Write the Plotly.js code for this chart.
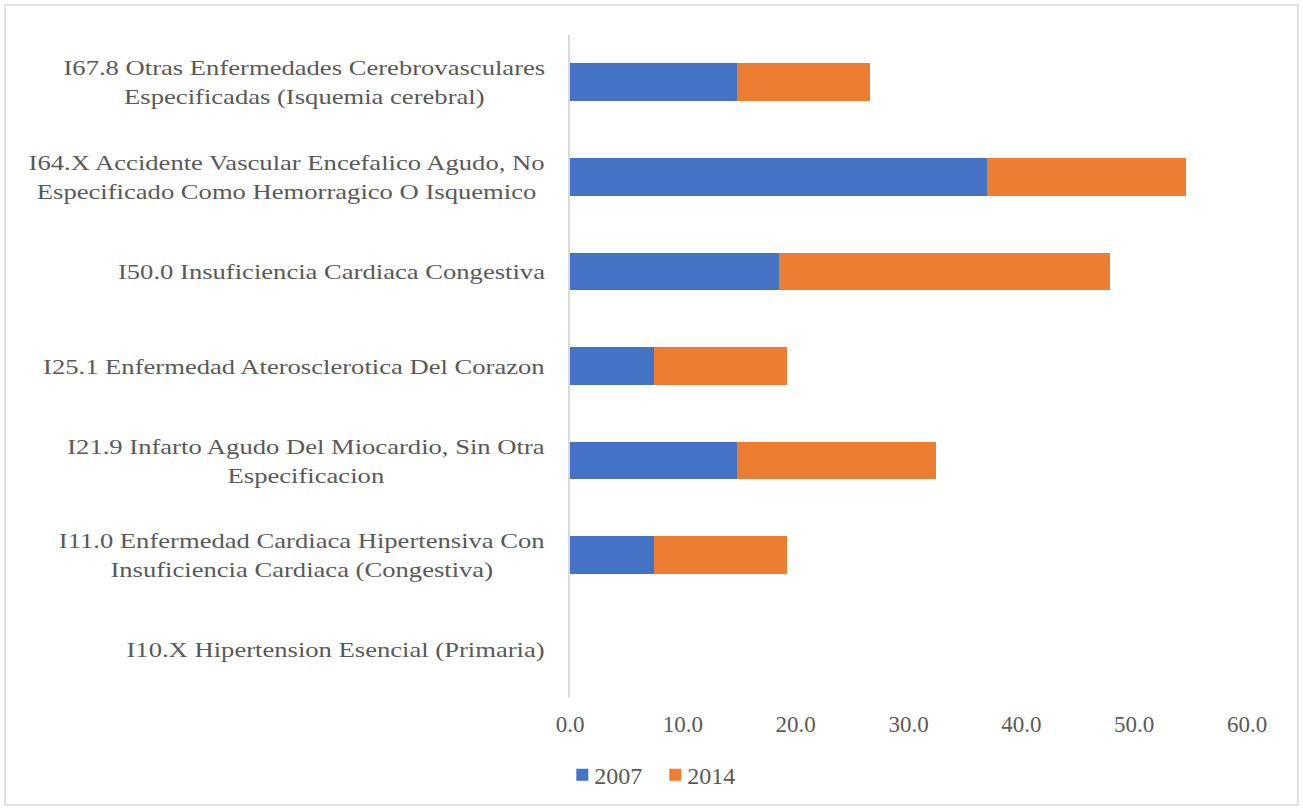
<!DOCTYPE html>
<html>
<head>
<meta charset="utf-8">
<script src="https://cdn.plot.ly/plotly-3.0.1.min.js"></script>
<style>
  html, body { margin: 0; padding: 0; background: #fff; }
  #chart { width: 1303px; height: 810px; }
  /* category labels are set in a wide serif: widen the glyphs from the right edge */
  #chart .annotation-text {
    transform-box: fill-box;
    transform-origin: 100% 50%;
    transform: scaleX(1.21);
  }
  /* tighter gap between legend swatch and its label */
  #chart .legendtext {
    transform: translateX(-8px);
  }
</style>
</head>
<body>
<div id="chart"></div>
<script>
// Diagnoses, listed top to bottom as shown
const categories = [
  "I67.8 Otras Enfermedades Cerebrovasculares<br>Especificadas (Isquemia cerebral)",
  "I64.X Accidente Vascular Encefalico Agudo, No<br>Especificado Como Hemorragico O Isquemico",
  "I50.0 Insuficiencia Cardiaca Congestiva",
  "I25.1 Enfermedad Aterosclerotica Del Corazon",
  "I21.9 Infarto Agudo Del Miocardio, Sin Otra<br>Especificacion",
  "I11.0 Enfermedad Cardiaca Hipertensiva Con<br>Insuficiencia Cardiaca (Congestiva)",
  "I10.X Hipertension Esencial (Primaria)"
];
const keys = ["I67.8", "I64.X", "I50.0", "I25.1", "I21.9", "I11.0", "I10.X"];
const values2007 = [14.8, 37.0, 18.5, 7.4, 14.8, 7.4, 0];
const values2014 = [11.8, 17.6, 29.4, 11.8, 17.6, 11.8, 0];
const xTicks = [0, 10, 20, 30, 40, 50, 60];

const FONT = "'Liberation Serif', 'Times New Roman', serif";
const TEXT_COLOR = "#595959";

const traces = [
  {
    type: "bar", orientation: "h", name: "2007",
    y: keys, x: values2007,
    marker: { color: "#4472C4", line: { width: 0 } },
    hoverinfo: "x+name"
  },
  {
    type: "bar", orientation: "h", name: "2014",
    y: keys, x: values2014,
    marker: { color: "#ED7D31", line: { width: 0 } },
    hoverinfo: "x+name"
  }
];

// Category labels: block right-aligned to the axis, lines centered
const labelAnnotations = keys.map((k, i) => ({
  xref: "paper", yref: "y",
  x: 0, y: k,
  xanchor: "right", yanchor: "middle",
  xshift: -23,
  align: "center",
  text: categories[i],
  showarrow: false,
  font: { family: FONT, size: 22, color: TEXT_COLOR }
}));

const layout = {
  width: 1303, height: 810,
  margin: { l: 570, r: 56, t: 35, b: 113 },
  paper_bgcolor: "#ffffff",
  plot_bgcolor: "#ffffff",
  barmode: "stack",
  bargap: 0.6,
  showlegend: true,
  legend: {
    orientation: "h",
    traceorder: "normal",
    x: 0.126, xanchor: "center",
    y: -0.118, yanchor: "middle",
    font: { family: FONT, size: 24, color: TEXT_COLOR },
    itemwidth: 30,
    tracegroupgap: 0
  },
  xaxis: {
    range: [0, 60],
    tickvals: xTicks,
    ticktext: xTicks.map(v => v.toFixed(1)),
    showgrid: false,
    zeroline: false,
    showline: false,
    ticks: "",
    ticklabelstandoff: 11,
    tickfont: { family: FONT, size: 23, color: TEXT_COLOR },
    fixedrange: true
  },
  yaxis: {
    type: "category",
    categoryorder: "array",
    categoryarray: keys,
    autorange: "reversed",
    showticklabels: false,
    showgrid: false,
    zeroline: false,
    showline: true,
    linecolor: "#d9d9d9",
    linewidth: 1.5,
    ticks: "",
    fixedrange: true
  },
  annotations: labelAnnotations,
  shapes: [{
    type: "rect", xref: "paper", yref: "paper",
    x0: (5 - 570) / 677, x1: (1298 - 570) / 677,
    y0: (697 - 805) / 662, y1: (697 - 5) / 662,
    line: { color: "#d9d9d9", width: 1.5 },
    fillcolor: "rgba(0,0,0,0)",
    layer: "below"
  }]
};

Plotly.newPlot("chart", traces, layout, { displayModeBar: false, responsive: false });
</script>
</body>
</html>
